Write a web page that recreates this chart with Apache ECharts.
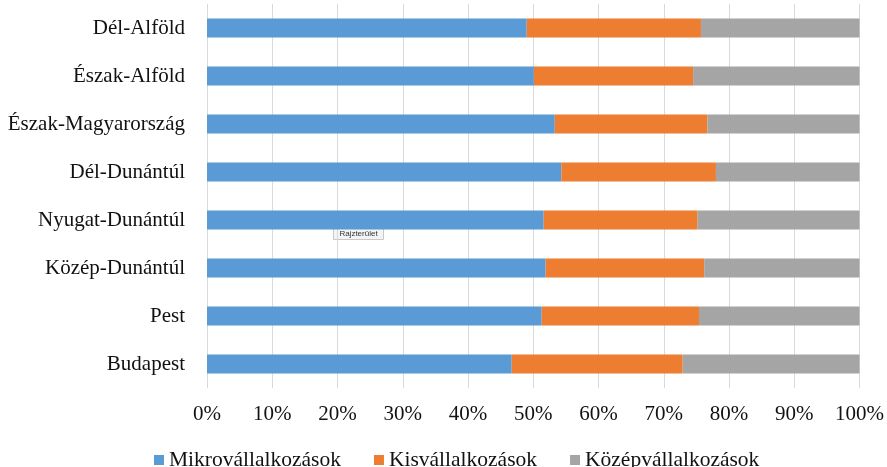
<!DOCTYPE html>
<html>
<head>
<meta charset="utf-8">
<script src="https://cdn.jsdelivr.net/npm/echarts@6/dist/echarts.min.js"></script>
<style>
    html, body { margin: 0; padding: 0; background: #fff; }
    #chart { width: 887px; height: 467px; }
</style>
</head>
<body>
<div id="chart"></div>
<script>
// regions, bottom to top as drawn
var regions = ['Budapest', 'Pest', 'Közép-Dunántúl', 'Nyugat-Dunántúl', 'Dél-Dunántúl',
    'Észak-Magyarország', 'Észak-Alföld', 'Dél-Alföld'];
// shares in percent
var mikro = [46.7, 51.3, 51.9, 51.6, 54.3, 53.3, 50.1, 49.0];
var kis = [26.2, 24.1, 24.3, 23.6, 23.7, 23.4, 24.4, 26.7];
var kozep = [27.1, 24.6, 23.8, 24.8, 22.0, 23.3, 25.5, 24.3];
var seriesNames = ['Mikrovállalkozások', 'Kisvállalkozások', 'Középvállalkozások'];
var colors = ['#5B9BD5', '#ED7D31', '#A5A5A5'];

var serif = '"Liberation Serif", "DejaVu Serif", serif';

var chart = echarts.init(document.getElementById('chart'), null, { renderer: 'canvas' });

function barSeries(name, data) {
    return {
        name: name,
        type: 'bar',
        stack: 'total',
        barWidth: 19,
        data: data
    };
}

var option = {
    animation: false,
    color: colors,
    grid: { left: 207, right: 27, top: 4, bottom: 79, containLabel: false },
    xAxis: {
        type: 'value',
        min: 0,
        max: 100,
        interval: 10,
        axisLine: { show: false },
        axisTick: { show: false },
        splitLine: { lineStyle: { color: '#d9d9d9', width: 1 } },
        axisLabel: {
            margin: 16,
            color: '#111',
            fontFamily: serif,
            fontSize: 21,
            formatter: '{value}%'
        }
    },
    yAxis: {
        type: 'category',
        data: regions,
        axisLine: { show: false },
        axisTick: { show: false },
        axisLabel: {
            margin: 22,
            color: '#111',
            fontFamily: serif,
            fontSize: 21
        }
    },
    legend: {
        top: 449,
        left: 154,
        padding: [0, 0, 0, 0],
        itemWidth: 10,
        itemHeight: 10,
        itemGap: 33,
        icon: 'rect',
        data: seriesNames,
        textStyle: { fontFamily: serif, fontSize: 21.5, color: '#111' }
    },
    graphic: [{
        // the stray "Rajzterület" tooltip seen in the screenshot
        type: 'group',
        left: 333,
        top: 226,
        children: [{
            type: 'rect',
            shape: { x: 0, y: 0, width: 50, height: 13 },
            style: { fill: '#f4f4f4', stroke: '#c8c8c8', lineWidth: 1 }
        }, {
            type: 'text',
            x: 25,
            y: 7,
            style: {
                text: 'Rajzterület',
                fontFamily: '"Liberation Sans", sans-serif',
                fontSize: 8,
                fill: '#333',
                align: 'center',
                verticalAlign: 'middle'
            }
        }]
    }],
    series: [
        barSeries(seriesNames[0], mikro),
        barSeries(seriesNames[1], kis),
        barSeries(seriesNames[2], kozep)
    ]
};

chart.setOption(option);
</script>
</body>
</html>
